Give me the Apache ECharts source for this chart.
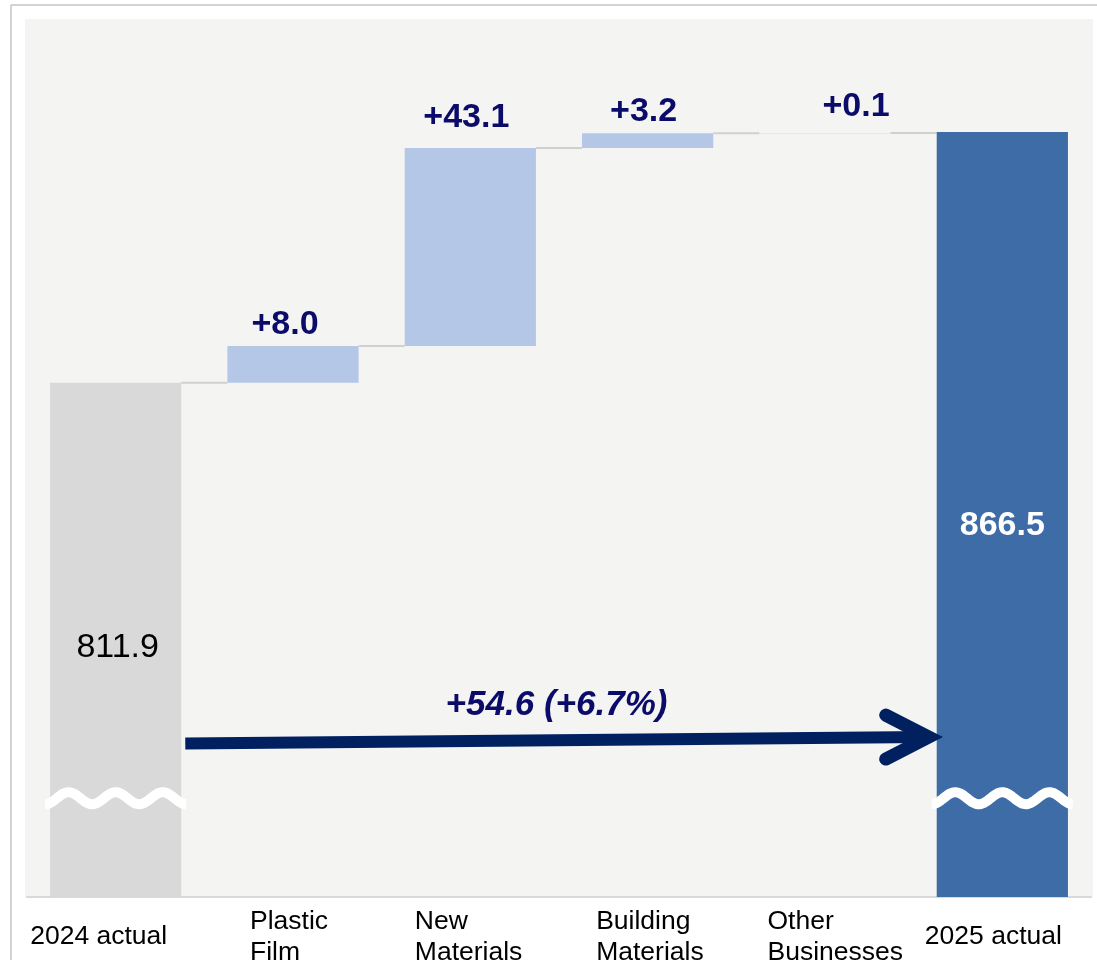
<!DOCTYPE html>
<html>
<head>
<meta charset="utf-8">
<script src="https://cdn.jsdelivr.net/npm/echarts@6/dist/echarts.min.js"></script>
<style>
  html, body { margin: 0; padding: 0; background: #ffffff; }
  #chart { width: 1097px; height: 960px; }
</style>
</head>
<body>
<div id="chart"></div>
<script>
// ---- Data -------------------------------------------------------------
const categories = ['2024 actual', 'Plastic\nFilm', 'New\nMaterials', 'Building\nMaterials', 'Other\nBusinesses', '2025 actual'];
const startTotal = 811.9;            // 2024 actual
const endTotal = 866.5;              // 2025 actual
const changes = [8.0, 43.1, 3.2, 0.1]; // Plastic Film, New Materials, Building Materials, Other Businesses

// ---- Styling ----------------------------------------------------------
const FONT = '"Liberation Sans", Arial, Helvetica, sans-serif';
const NAVY_TEXT = '#0b0b69';
const NAVY_ARROW = '#002060';
const C_START = '#d9d9d9';
const C_END = '#3d6ca7';
const C_DELTA = '#b4c7e7';
const C_PANEL = '#f4f4f3';
const C_CONNECT = '#d0d0d0';
const BAR_FRACTION = 0.74;
const AXIS_MIN = 700, AXIS_MAX = 890;   // broken value axis
const BREAK_LEVEL = 721.5;              // where the wavy break crosses the total bars
const ARROW_LEVELS = [733.4, 734.8];    // arrow shaft height at start / end
const VALUE_FONT = 34;
const CAT_FONT = 26.5;
const DELTA_LABEL_NUDGE = [[-8, 0], [-4, -9], [-4, -1], [31, -5]];
const CAT_LABEL_SHIFT = [-16, -3, -1, 3, 11, -8];

// ---- Derived waterfall series -----------------------------------------
const round1 = v => Math.round(v * 10) / 10;
const baseData = ['-'];
const deltaData = ['-'];
const levels = [startTotal];
let running = startTotal;
changes.forEach((v, i) => {
  baseData.push(round1(running));
  deltaData.push({ value: v, label: { offset: DELTA_LABEL_NUDGE[i] } });
  running = round1(running + v);
  levels.push(running);
});
baseData.push('-');
deltaData.push('-');

const totalData = [
  { value: startTotal, itemStyle: { color: C_START },
    label: { show: true, position: 'inside', offset: [2, 8], color: '#000000', fontSize: VALUE_FONT, fontWeight: 'normal', fontFamily: FONT } },
  '-', '-', '-', '-',
  { value: endTotal, itemStyle: { color: C_END },
    label: { show: true, position: 'inside', offset: [0, 11], color: '#ffffff', fontSize: VALUE_FONT, fontWeight: 'bold', fontFamily: FONT } }
];

const connectorData = levels.slice(0, categories.length - 1).map((lv, i) => [i, lv]);
const diff = round1(endTotal - startTotal);
const pct = diff / startTotal * 100;
const arrowText = '+' + diff.toFixed(1) + ' (+' + pct.toFixed(1) + '%)';

// ---- Category label layout: left-aligned lines in a centred block -----
const measureCtx = document.createElement('canvas').getContext('2d');
measureCtx.font = CAT_FONT + 'px ' + FONT;
const rich = {};
categories.forEach((c, i) => {
  const w = Math.max.apply(null, c.split('\n').map(l => measureCtx.measureText(l).width));
  const s = CAT_LABEL_SHIFT[i];
  rich['c' + i] = {
    width: Math.ceil(w) + 1, align: 'left', fontSize: CAT_FONT, lineHeight: 31,
    fontFamily: FONT, color: '#000000',
    padding: s < 0 ? [0, -2 * s, 0, 0] : [0, 0, 0, 2 * s]
  };
});

// ---- Custom renderers --------------------------------------------------
function renderConnector(params, api) {
  const i = api.value(0), v = api.value(1);
  const half = api.size([1, 0])[0] * BAR_FRACTION / 2;
  const p0 = api.coord([i, v]);
  const p1 = api.coord([i + 1, v]);
  return {
    type: 'line',
    shape: { x1: p0[0] + half, y1: p0[1], x2: p1[0] - half, y2: p1[1] },
    style: { stroke: C_CONNECT, lineWidth: 2 }
  };
}

function renderBreak(params, api) {
  const c = api.coord([api.value(0), api.value(1)]);
  const half = api.size([1, 0])[0] * BAR_FRACTION / 2 + 5;
  const period = 2 * half / 3;
  const amp = 6;
  const pts = [];
  for (let dx = -half; dx <= half + 0.01; dx += 1) {
    pts.push([c[0] + dx, c[1] - amp * Math.cos(2 * Math.PI * dx / period)]);
  }
  return {
    type: 'polyline',
    shape: { points: pts },
    style: { stroke: '#ffffff', lineWidth: 10, fill: 'none', lineCap: 'butt' }
  };
}

function renderArrow(params, api) {
  const i0 = api.value(0), i1 = api.value(1);
  const half = api.size([1, 0])[0] * BAR_FRACTION / 2;
  const a = api.coord([i0, ARROW_LEVELS[0]]);
  const b = api.coord([i1, ARROW_LEVELS[1]]);
  const x0 = a[0] + half + 4, y0 = a[1];
  const x1 = b[0] - half - 3, y1 = b[1];
  const headLen = 48, headSpread = 22;
  return {
    type: 'group',
    children: [
      { type: 'line',
        shape: { x1: x0, y1: y0, x2: x1 - 8, y2: y1 },
        style: { stroke: NAVY_ARROW, lineWidth: 12, lineCap: 'butt' } },
      { type: 'polyline',
        shape: { points: [[x1 - headLen, y1 - headSpread], [x1 - 5, y1], [x1 - headLen, y1 + headSpread]] },
        style: { stroke: NAVY_ARROW, lineWidth: 13, fill: 'none', lineCap: 'round', lineJoin: 'miter', miterLimit: 10 } },
      { type: 'text',
        x: (x0 + x1) / 2 - 3, y: (y0 + y1) / 2 - 35,
        style: { text: arrowText, fill: NAVY_TEXT, fontSize: 35, fontWeight: 'bold', fontStyle: 'italic',
                 fontFamily: FONT, align: 'center', verticalAlign: 'middle' } }
    ]
  };
}

// ---- Chart -------------------------------------------------------------
const chart = echarts.init(document.getElementById('chart'), null, { renderer: 'canvas' });
chart.setOption({
  animation: false,
  backgroundColor: '#ffffff',
  graphic: [
    { type: 'rect', z: -10, shape: { x: 25, y: 19, width: 1068, height: 878 }, style: { fill: C_PANEL } },
    { type: 'line', z: -5, shape: { x1: 11, y1: 5, x2: 1097, y2: 5 }, style: { stroke: '#c4c4c4', lineWidth: 1.5 } },
    { type: 'line', z: -5, shape: { x1: 11, y1: 5, x2: 11, y2: 960 }, style: { stroke: '#c4c4c4', lineWidth: 1.5 } }
  ],
  grid: { left: 27, right: 6, top: 24, bottom: 63, containLabel: false, outerBoundsMode: 'none' },
  xAxis: {
    type: 'category',
    data: categories,
    axisTick: { show: false },
    axisLine: { show: true, lineStyle: { color: '#d9d9d9', width: 2 } },
    axisLabel: {
      interval: 0,
      margin: 40,
      verticalAlign: 'middle',
      hideOverlap: false,
      formatter: (val, idx) => val.split('\n').map(l => '{c' + idx + '|' + l + '}').join('\n'),
      rich: rich
    },
    splitLine: { show: false }
  },
  yAxis: {
    type: 'value',
    min: AXIS_MIN,
    max: AXIS_MAX,
    show: false,
    splitLine: { show: false }
  },
  series: [
    {
      name: 'connector', type: 'custom', z: 1,
      renderItem: renderConnector, data: connectorData, silent: true
    },
    {
      name: 'base', type: 'bar', stack: 'wf', barWidth: (BAR_FRACTION * 100) + '%',
      itemStyle: { color: 'transparent' }, data: baseData, z: 2, silent: true
    },
    {
      name: 'change', type: 'bar', stack: 'wf', barWidth: (BAR_FRACTION * 100) + '%',
      itemStyle: { color: C_DELTA }, data: deltaData, z: 3,
      label: {
        show: true, position: 'top', distance: 4,
        color: NAVY_TEXT, fontSize: VALUE_FONT, fontWeight: 'bold', fontFamily: FONT,
        formatter: p => '+' + Number(p.value).toFixed(1)
      }
    },
    {
      name: 'total', type: 'bar', stack: 'wf', barWidth: (BAR_FRACTION * 100) + '%',
      data: totalData, z: 3
    },
    {
      name: 'break', type: 'custom', z: 5,
      renderItem: renderBreak, data: [[0, BREAK_LEVEL], [categories.length - 1, BREAK_LEVEL]], silent: true
    },
    {
      name: 'arrow', type: 'custom', z: 6,
      renderItem: renderArrow, data: [[0, categories.length - 1]], silent: true
    }
  ]
});
</script>
</body>
</html>
